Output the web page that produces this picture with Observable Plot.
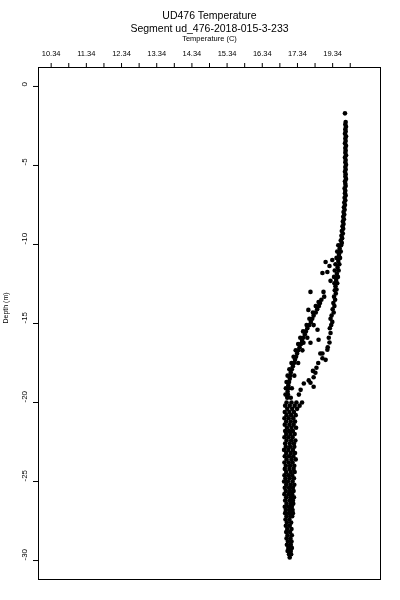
<!DOCTYPE html>
<html>
<head>
<meta charset="utf-8">
<script src="https://cdn.jsdelivr.net/npm/d3@7"></script>
<script src="https://cdn.jsdelivr.net/npm/@observablehq/plot@0.6"></script>
<style>
  body { margin: 0; background: #fff; }
  svg { font-family: "Liberation Sans", Arial, Helvetica, sans-serif; filter: grayscale(1); }
</style>
</head>
<body>
<div id="chart"></div>
<script>
const titleText = "UD476 Temperature";
const subtitleText = "Segment ud_476-2018-015-3-233";
const xAxisTitle = "Temperature (C)";
const yAxisTitle = "Depth (m)";

const xTickValues = [10.34, 10.84, 11.34, 11.84, 12.34, 12.84, 13.34, 13.84, 14.34, 14.84, 15.34, 15.84, 16.34, 16.84, 17.34, 17.84, 18.34, 18.84];
const xLabelValues = [10.34, 11.34, 12.34, 13.34, 14.34, 15.34, 16.34, 17.34, 18.34];
const xLabelTexts = ["10.34", "11.34", "12.34", "13.34", "14.34", "15.34", "16.34", "17.34", "19.34"];
const yTickValues = [0, -5, -10, -15, -20, -25, -30];
const yTickTexts = ["0", "-5", "-10", "-15", "-20", "-25", "-30"];

// rows: [depth, temp, temp, ...]
const upperColumn = [
  [-1.70, 18.69],
  [-2.25, 18.71],[-2.40, 18.70],[-2.55, 18.72],[-2.70, 18.70],[-2.85, 18.71],[-3.00, 18.69],
  [-3.15, 18.72],[-3.30, 18.70],[-3.45, 18.71],[-3.60, 18.69],[-3.75, 18.72],[-3.90, 18.70],
  [-4.05, 18.71],[-4.20, 18.70],[-4.35, 18.72],[-4.50, 18.69],[-4.65, 18.71],[-4.80, 18.70],
  [-4.95, 18.72],[-5.10, 18.70],[-5.25, 18.71],[-5.40, 18.69],[-5.55, 18.71],[-5.70, 18.70],
  [-5.85, 18.72],[-6.00, 18.69],[-6.15, 18.70],[-6.30, 18.71],[-6.45, 18.68],[-6.60, 18.70],
  [-6.75, 18.69],[-6.90, 18.71],[-7.05, 18.68],[-7.20, 18.70],[-7.35, 18.67],[-7.50, 18.69],
  [-7.65, 18.66],[-7.80, 18.68],[-7.95, 18.65],[-8.10, 18.67],[-8.25, 18.64],[-8.40, 18.66],
  [-8.55, 18.63],[-8.70, 18.65],[-8.85, 18.62],[-9.00, 18.64],[-9.15, 18.60],[-9.30, 18.63],
  [-9.45, 18.59],[-9.60, 18.61],[-9.75, 18.57],[-9.90, 18.60]
];

const transitionBand = [
  [-10.05, 18.58, 18.50],[-10.25, 18.54],[-10.45, 18.57, 18.47],[-10.65, 18.52],
  [-10.85, 18.55, 18.45],[-11.05, 18.50],[-11.25, 18.53, 18.42],[-11.45, 18.48],
  [-11.65, 18.51, 18.40],[-11.85, 18.46],[-12.05, 18.49, 18.38],[-12.25, 18.44],
  [-12.45, 18.47, 18.39],[-12.65, 18.42],[-12.85, 18.45]
];

const scatterPoints = [
  [-10.98, 18.33],[-11.11, 18.14],[-11.36, 18.25],[-11.74, 18.19],[-11.80, 18.05],
  [-12.30, 18.28],[-13.00, 18.08, 17.71],[-13.64, 17.94],[-14.14, 17.65],
  [-15.40, 17.91],[-16.03, 17.94],[-16.22, 17.71, 17.51],[-16.66, 18.19],[-17.30, 18.14],
  [-18.12, 17.85],[-18.75, 17.71],[-19.00, 17.80]
];

const leftBranch = [
  [-13.3, 18.10],[-13.5, 18.02],[-13.7, 17.98],[-13.9, 17.95, 17.86],[-14.1, 17.90],
  [-14.3, 17.86, 17.78],[-14.5, 17.80],[-14.7, 17.76, 17.68],[-14.9, 17.72],
  [-15.1, 17.68, 17.60, 17.80],[-15.3, 17.62],[-15.5, 17.58, 17.50],[-15.7, 17.55],
  [-15.9, 17.50, 17.42, 17.62],[-16.1, 17.47],[-16.3, 17.44, 17.36],[-16.5, 17.40],
  [-16.7, 17.36, 17.29, 17.48],[-16.9, 17.33],[-17.1, 17.30, 17.23],[-17.3, 17.27],
  [-17.5, 17.24, 17.17, 17.36],[-17.7, 17.21],[-17.9, 17.18, 17.11],[-18.1, 17.15],
  [-18.3, 17.13, 17.06, 17.25],[-18.5, 17.12],[-18.7, 17.10, 17.03],[-18.9, 17.08],
  [-19.1, 17.08, 17.01, 17.18],[-19.3, 17.06],[-19.5, 17.07, 17.00],[-19.7, 17.05, 17.15]
];

const rightBranch = [
  [-12.9, 18.40],[-13.1, 18.43],[-13.3, 18.38],[-13.5, 18.41],[-13.7, 18.36],[-13.9, 18.39],
  [-14.1, 18.34],[-14.3, 18.37],[-14.5, 18.31],[-14.7, 18.28],[-14.9, 18.33],[-15.1, 18.30],
  [-15.3, 18.26],[-15.6, 18.28],[-15.9, 18.23],[-16.2, 18.25],[-16.5, 18.20],[-16.9, 18.05, 17.99],
  [-17.2, 18.05],[-17.5, 17.93],[-17.8, 17.88],[-18.0, 17.78],[-18.4, 17.80],[-18.6, 17.66],
  [-18.8, 17.52],[-19.2, 17.43],[-19.5, 17.38]
];

const lowerColumn = [
  [-20.0, 17.03, 17.17, 17.31, 17.47],[-20.2, 16.99, 17.12, 17.26, 17.40],
  [-20.4, 17.05, 17.19, 17.33],[-20.6, 16.98, 17.11, 17.24],[-20.8, 17.03, 17.16, 17.29],
  [-21.0, 16.97, 17.09, 17.22],[-21.2, 17.02, 17.15, 17.27],[-21.4, 16.98, 17.11, 17.23],
  [-21.6, 17.04, 17.17, 17.30],[-21.8, 16.99, 17.10, 17.21],[-22.0, 17.02, 17.14, 17.26],
  [-22.2, 16.97, 17.08, 17.20],[-22.4, 17.03, 17.16, 17.28],[-22.6, 16.99, 17.12, 17.24],
  [-22.8, 17.01, 17.13, 17.25],[-23.0, 16.96, 17.08, 17.21],[-23.2, 17.02, 17.15, 17.27],
  [-23.4, 16.98, 17.10, 17.22],[-23.6, 17.03, 17.17, 17.29],[-23.8, 16.97, 17.09, 17.20],
  [-24.0, 17.01, 17.13, 17.25],[-24.2, 16.98, 17.11, 17.23],[-24.4, 17.02, 17.15, 17.26],
  [-24.6, 16.97, 17.08, 17.19],[-24.8, 17.00, 17.12, 17.24],[-25.0, 16.96, 17.07, 17.20],
  [-25.2, 17.02, 17.14, 17.25],[-25.4, 16.98, 17.10, 17.21],[-25.6, 17.01, 17.13, 17.23],
  [-25.8, 16.97, 17.09, 17.19],[-26.0, 17.02, 17.14, 17.24],[-26.2, 16.99, 17.11, 17.21],
  [-26.4, 17.03, 17.15, 17.22],[-26.6, 16.98, 17.08, 17.18],[-26.8, 17.01, 17.12, 17.20],
  [-27.0, 16.99, 17.10, 17.21],[-27.2, 17.03, 17.14, 17.19],[-27.4, 17.00, 17.11],
  [-27.6, 17.04, 17.16],[-27.8, 17.01, 17.12],[-28.0, 17.05, 17.17],[-28.2, 17.02, 17.13],
  [-28.4, 17.06, 17.18],[-28.6, 17.03, 17.14],[-28.8, 17.07, 17.17],[-29.0, 17.04, 17.15],
  [-29.2, 17.08, 17.18],[-29.4, 17.06, 17.15],[-29.6, 17.10, 17.16],[-29.8, 17.12]
];

const points = [upperColumn, transitionBand, scatterPoints, leftBranch, rightBranch, lowerColumn]
  .flat()
  .flatMap(([depth, ...temps]) => temps.map(temp => ({depth, temp})));

const fontFamily = '"Liberation Sans", Arial, Helvetica, sans-serif';

const chart = Plot.plot({
  width: 400,
  height: 600,
  marginLeft: 38,
  marginRight: 20,
  marginTop: 67,
  marginBottom: 21,
  style: {fontFamily, background: "white", color: "black"},
  x: {domain: [9.98, 19.70], axis: null},
  y: {domain: [-31.2, 1.2], axis: null},
  marks: [
    Plot.frame({stroke: "black", strokeWidth: 1}),
    Plot.axisX({anchor: "top", ticks: xTickValues, tickSize: 5, tickFormat: () => "", label: null, stroke: "black"}),
    Plot.text(xLabelValues, {x: d => d, text: (d, i) => xLabelTexts[i], frameAnchor: "top", dy: -17, fontSize: 7.5, fill: "black"}),
    Plot.axisY({anchor: "left", ticks: yTickValues, tickSize: 5, tickFormat: () => "", label: null, stroke: "black"}),
    Plot.text(yTickValues, {y: d => d, text: (d, i) => yTickTexts[i], frameAnchor: "left", dx: -14, rotate: -90, fontSize: 8, fill: "black"}),
    Plot.dot(points, {x: "temp", y: "depth", r: 2.3, fill: "black", stroke: "none"}),
    Plot.text([titleText], {frameAnchor: "top", dy: -56, fontSize: 10.5, fill: "black"}),
    Plot.text([subtitleText], {frameAnchor: "top", dy: -43, fontSize: 10.5, fill: "black"}),
    Plot.text([xAxisTitle], {frameAnchor: "top", dy: -32, fontSize: 7.5, fill: "black"}),
    Plot.text([yAxisTitle], {frameAnchor: "left", dx: -33, rotate: -90, fontSize: 7, fill: "black"})
  ]
});
document.getElementById("chart").appendChild(chart);
</script>
</body>
</html>
